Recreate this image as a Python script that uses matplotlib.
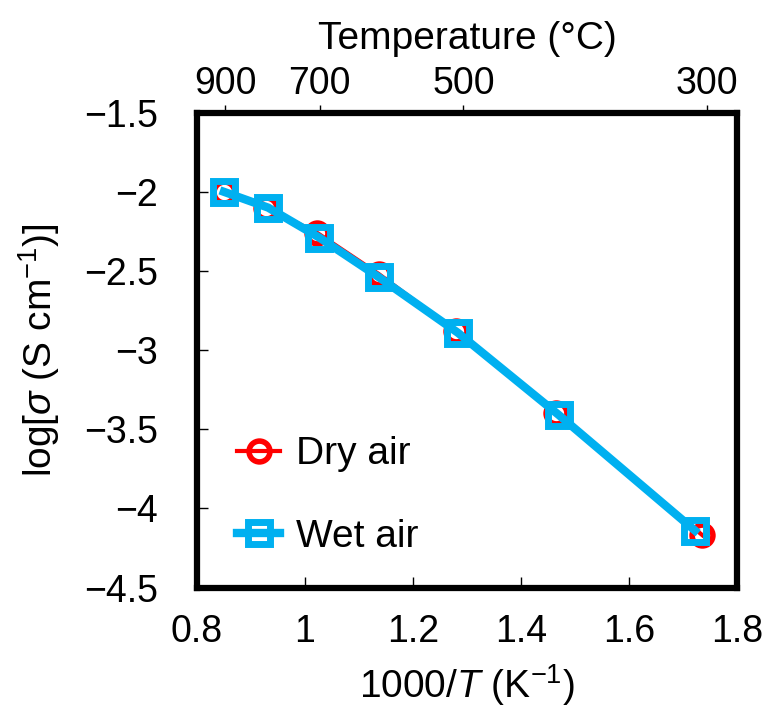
import numpy as np
import matplotlib
matplotlib.use("Agg")
import matplotlib.pyplot as plt

plt.rcParams['font.family'] = ['Liberation Sans', 'DejaVu Sans']
plt.rcParams['mathtext.fontset'] = 'custom'
plt.rcParams['mathtext.rm'] = 'Liberation Sans'
plt.rcParams['mathtext.it'] = 'Liberation Sans:italic'

# data
inv_T_dry = [0.851, 0.928, 1.023, 1.137, 1.279, 1.464, 1.736]
log_sigma_dry = [-2.00, -2.10, -2.26, -2.52, -2.88, -3.40, -4.17]
inv_T_wet = [0.850, 0.932, 1.027, 1.137, 1.283, 1.470, 1.722]
log_sigma_wet = [-2.00, -2.10, -2.29, -2.54, -2.89, -3.41, -4.14]
top_ticks = [900, 700, 500, 300]

fig = plt.figure(figsize=(7.63, 7.13), dpi=100)
ax = fig.add_axes([0.258, 0.176, 0.708, 0.666])

ax.plot(inv_T_dry, log_sigma_dry, color='#FF0000', lw=3, marker='o', ms=15,
        mfc='none', mew=4, label='Dry air')
ax.plot(inv_T_wet, log_sigma_wet, color='#00B0F0', lw=6, marker='s', ms=16,
        mfc='none', mew=5, label='Wet air')

ax.set_xlim(0.8, 1.8)
ax.set_ylim(-4.5, -1.5)
ax.set_xticks(np.arange(0.8, 1.81, 0.2))
ax.set_xticklabels(['0.8', '1', '1.2', '1.4', '1.6', '1.8'])
ax.set_yticks(np.arange(-4.5, -1.49, 0.5))
ax.set_yticklabels(['\u22124.5', '\u22124', '\u22123.5', '\u22123', '\u22122.5', '\u22122', '\u22121.5'])
ax.tick_params(direction='in', length=8, width=1, labelsize=27)
ax.tick_params(axis='x', pad=19)
ax.tick_params(axis='y', pad=28)
for s in ax.spines.values():
    s.set_linewidth(4.5)

ax.set_xlabel(r'1000/$T$ (K$^{-1}$)', fontsize=28, labelpad=9)
ax.set_ylabel(r'log[$\sigma$ (S cm$^{-1}$)]', fontsize=28, labelpad=16)

sec = ax.secondary_xaxis('top', functions=(lambda x: 1000 / x - 273.15,
                                           lambda t: 1000 / (t + 273.15)))
sec.set_xticks(top_ticks)
sec.tick_params(direction='out', length=6, width=1, labelsize=27, pad=2)
sec.set_xlabel('Temperature (\u00b0C)', fontsize=28, labelpad=12)

ax.legend(loc='lower left', frameon=False, fontsize=28, handlelength=1.1,
          handletextpad=0.4, labelspacing=1.2, bbox_to_anchor=(0.01, -0.005))

fig.savefig('out.png', dpi=100)
